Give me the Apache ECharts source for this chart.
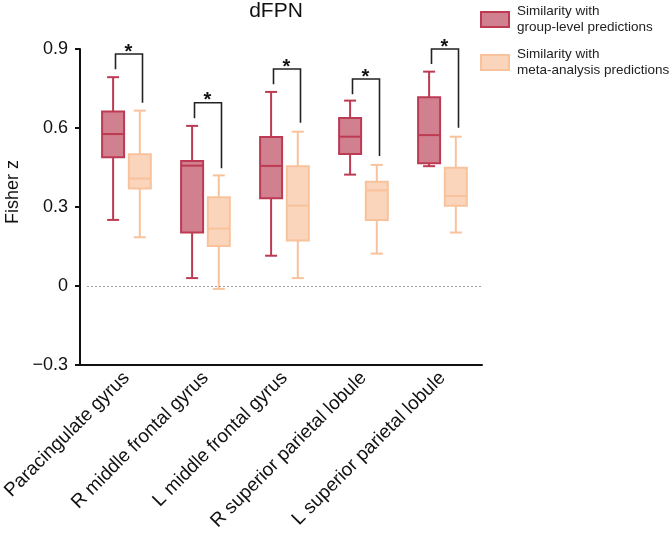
<!DOCTYPE html>
<html>
<head>
<meta charset="utf-8">
<script src="https://cdn.jsdelivr.net/npm/echarts@6/dist/echarts.min.js"></script>
<style>html,body{margin:0;padding:0;background:#fff}#c{width:671px;height:533px}</style>
</head>
<body>
<div id="c"></div>
<script>
const categories = ['Paracingulate gyrus', 'R middle frontal gyrus', 'L middle frontal gyrus', 'R superior parietal lobule', 'L superior parietal lobule'];
// [min, Q1, median, Q3, max]
const groupStats = [
  [0.251, 0.489, 0.577, 0.663, 0.793],
  [0.030, 0.203, 0.457, 0.475, 0.608],
  [0.115, 0.333, 0.456, 0.566, 0.737],
  [0.423, 0.501, 0.567, 0.638, 0.704],
  [0.455, 0.466, 0.573, 0.717, 0.814]
];
const metaStats = [
  [0.185, 0.370, 0.408, 0.500, 0.666],
  [-0.011, 0.152, 0.218, 0.337, 0.420],
  [0.030, 0.173, 0.305, 0.455, 0.586],
  [0.123, 0.251, 0.363, 0.396, 0.460],
  [0.203, 0.305, 0.342, 0.449, 0.567]
];
const bracketTop = [0.881, 0.696, 0.824, 0.786, 0.900];
const bracketLeftEnd = [0.823, 0.637, 0.766, 0.728, 0.843];
const bracketRightEnd = [0.696, 0.447, 0.620, 0.494, 0.601];
const sigLabels = ['*', '*', '*', '*', '*'];
const yMin = -0.3, yMax = 0.9, yStep = 0.3;
const seriesNames = ['Similarity with\ngroup-level predictions', 'Similarity with\nmeta-analysis predictions'];

const groupFill = '#d0808f', groupStroke = '#bd3a53';
const metaFill = '#fad5bb', metaStroke = '#f8c29c';
const FONT = 'Liberation Sans, Arial, sans-serif';

function boxRender(offset, stroke, fill) {
  return function (params, api) {
    const i = api.value(0);
    const vals = [api.value(1), api.value(2), api.value(3), api.value(4), api.value(5)];
    const pts = vals.map(v => api.coord([i, v]));
    const cx = pts[0][0] + offset;
    const half = 11, cap = 6;
    const ys = pts.map(p => p[1]);
    const ls = { stroke: stroke, lineWidth: 2 };
    return {
      type: 'group',
      children: [
        { type: 'line', shape: { x1: cx, y1: ys[4], x2: cx, y2: ys[3] }, style: ls },
        { type: 'line', shape: { x1: cx, y1: ys[1], x2: cx, y2: ys[0] }, style: ls },
        { type: 'line', shape: { x1: cx - cap, y1: ys[4], x2: cx + cap, y2: ys[4] }, style: ls },
        { type: 'line', shape: { x1: cx - cap, y1: ys[0], x2: cx + cap, y2: ys[0] }, style: ls },
        { type: 'rect', shape: { x: cx - half, y: ys[3], width: half * 2, height: ys[1] - ys[3] }, style: { fill: fill, stroke: stroke, lineWidth: 2 } },
        { type: 'line', shape: { x1: cx - half, y1: ys[2], x2: cx + half, y2: ys[2] }, style: ls }
      ]
    };
  };
}

function bracketRender(params, api) {
  const i = api.value(0);
  const top = api.coord([i, api.value(1)]);
  const l = api.coord([i, api.value(2)]);
  const r = api.coord([i, api.value(3)]);
  const xl = top[0] - 11, xr = top[0] + 16;
  return {
    type: 'group',
    children: [
      { type: 'polyline', shape: { points: [[xl, l[1]], [xl, top[1]], [xr, top[1]], [xr, r[1]]] }, style: { stroke: '#222', lineWidth: 1.6, fill: null } },
      { type: 'text', style: { text: sigLabels[i], x: top[0] + 2, y: top[1] + 8, align: 'center', verticalAlign: 'bottom', font: 'bold 20px "Liberation Sans", Arial, sans-serif', fill: '#111' } }
    ]
  };
}

const chart = echarts.init(document.getElementById('c'), null, { renderer: 'canvas' });
const option = {
  animation: false,
  backgroundColor: '#fff',
  title: {
    text: 'dFPN', left: 276, top: 1, textAlign: 'center', padding: 0,
    textStyle: { fontFamily: FONT, fontSize: 21, fontWeight: 'normal', color: '#111' }
  },
  legend: {
    orient: 'vertical', left: 480, top: 3, padding: 0, itemWidth: 28, itemHeight: 15, itemGap: 10,
    textStyle: { fontFamily: FONT, fontSize: 13.5, color: '#222', lineHeight: 16.5, padding: [0, 0, 0, 3] },
    data: [
      { name: seriesNames[0], icon: 'rect', itemStyle: { color: groupFill, borderColor: groupStroke, borderWidth: 2 } },
      { name: seriesNames[1], icon: 'rect', itemStyle: { color: metaFill, borderColor: metaStroke, borderWidth: 2 } }
    ]
  },
  grid: { left: 87, right: 189, top: 49, bottom: 168, containLabel: false, outerBoundsMode: 'none' },
  xAxis: {
    type: 'category', data: categories,
    axisLine: { onZero: false, lineStyle: { color: '#111', width: 2 } },
    axisTick: { alignWithLabel: true, length: 5, lineStyle: { color: '#111', width: 2 } },
    axisLabel: { rotate: 45, margin: 10, fontFamily: FONT, fontSize: 19, color: '#111', interval: 0 },
    splitLine: { show: false }
  },
  yAxis: {
    type: 'value', min: yMin, max: yMax, interval: yStep, offset: 7,
    name: 'Fisher z', nameLocation: 'middle', nameGap: 47,
    nameTextStyle: { fontFamily: FONT, fontSize: 18, color: '#111', padding: [0, 0, 0, 30] },
    axisLine: { show: true, lineStyle: { color: '#111', width: 2 } },
    axisTick: { show: true, length: 5, lineStyle: { color: '#111', width: 2 } },
    axisLabel: {
      margin: 12, fontFamily: FONT, fontSize: 18, color: '#111',
      formatter: v => { const r = Math.round(v * 10) / 10; return r === 0 ? '0' : (r < 0 ? '\u2212' + Math.abs(r).toFixed(1) : r.toFixed(1)); }
    },
    splitLine: { show: false }
  },
  graphic: [
    { type: 'line', shape: { x1: 79, y1: 365, x2: 88, y2: 365 }, style: { stroke: '#111', lineWidth: 2 }, z: 10 }
  ],
  series: [
    {
      name: seriesNames[0], type: 'custom', renderItem: boxRender(-13.4, groupStroke, groupFill),
      itemStyle: { color: groupFill, borderColor: groupStroke },
      encode: { x: 0, y: [1, 2, 3, 4, 5] },
      data: groupStats.map((s, i) => [i].concat(s)),
      markLine: {
        silent: true, symbol: 'none', label: { show: false },
        lineStyle: { color: '#a0a0a0', type: [2, 2], width: 1 },
        data: [{ yAxis: 0 }]
      },
      z: 3
    },
    {
      name: seriesNames[1], type: 'custom', renderItem: boxRender(13.3, metaStroke, metaFill),
      itemStyle: { color: metaFill, borderColor: metaStroke },
      encode: { x: 0, y: [1, 2, 3, 4, 5] },
      data: metaStats.map((s, i) => [i].concat(s)),
      z: 3
    },
    {
      name: 'significance', type: 'custom', renderItem: bracketRender,
      encode: { x: 0, y: [1, 2, 3] },
      data: bracketTop.map((t, i) => [i, t, bracketLeftEnd[i], bracketRightEnd[i]]),
      z: 4
    }
  ]
};
chart.setOption(option);
</script>
</body>
</html>
